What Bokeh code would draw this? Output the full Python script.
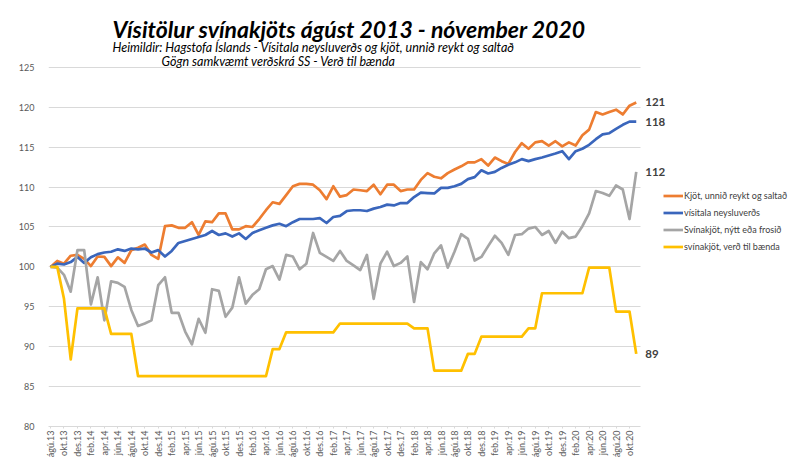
import math
from bokeh.plotting import figure
from bokeh.models import Range1d, FixedTicker, Legend, LegendItem, Label
from bokeh.embed import file_html
from bokeh.resources import INLINE

# ---- data (monthly index, ágúst 2013 = 100) ----
month_names = ["jan", "feb", "mar", "apr", "maí", "jún", "júl", "ágú", "sep", "okt", "nóv", "des"]
start_year, start_month = 2013, 8
n_months = 88

kjot = [100, 100.75, 100.4, 101.4, 101.5, 101.0, 100.1, 101.3, 101.25, 100.1,
        101.2, 100.5, 102.1, 102.4, 102.8, 101.5, 101.0, 105.1, 105.2, 104.9,
        104.9, 105.6, 104.0, 105.7, 105.6, 106.7, 106.7, 104.7, 104.7, 105.1,
        105.0, 106.0, 107.1, 108.1, 107.9,
        109.0, 110.1, 110.4, 110.4, 110.3, 109.6, 108.5, 110.1, 108.8, 109.0,
        109.7, 109.6, 109.5, 110.3, 109.1, 110.3, 110.3, 109.5, 109.7, 109.7,
        110.9, 111.75, 111.3,
        111.1, 111.75, 112.2, 112.6, 113.1, 113.1, 113.5, 112.7, 113.7, 113.25,
        112.9, 114.4, 115.5, 114.8, 115.6, 115.75, 115.2, 115.75, 115.1, 115.6,
        115.2, 116.5, 117.2, 119.4, 119.1, 119.4, 119.7, 119.1, 120.2, 120.6]

visitala = [100, 100.4, 100.3, 100.6, 101.25, 100.5, 101.2, 101.6, 101.8, 101.9,
            102.2, 102.0, 102.3, 102.2, 102.3, 101.8, 102.1, 101.3, 102.0, 103.0,
            103.25, 103.5, 103.75, 104.0, 104.5, 104.0, 104.2, 103.8, 104.2, 103.5,
            104.25, 104.6, 104.9, 105.2, 105.4,
            105.1, 105.6, 106.0, 106.0, 106.0, 106.1, 105.5, 106.25, 106.4, 107.0,
            107.1, 107.1, 107.0, 107.3, 107.5, 107.8, 107.7, 108.0, 108.0, 108.75,
            109.3, 109.25, 109.2,
            109.9, 109.9, 110.1, 110.4, 111.0, 111.25, 112.1, 111.7, 111.9, 112.4,
            112.8, 113.1, 113.5, 113.25, 113.5, 113.7, 113.95, 114.2, 114.5, 113.5,
            114.5, 114.8, 115.3, 116.0, 116.6, 116.75, 117.3, 117.8, 118.2, 118.2]

svinakjot = [100, 99.9, 99.0, 96.9, 102.1, 102.1, 95.3, 98.7, 93.3, 98.2,
             98.0, 97.5, 94.6, 92.6, 92.9, 93.3, 97.7, 98.7, 94.25, 94.25,
             91.9, 90.3, 93.5, 91.75, 97.2, 97.0, 93.75, 94.9, 98.7, 95.4,
             96.5, 97.2, 99.7, 100.1, 98.4,
             101.5, 101.3, 99.7, 100.4, 104.25, 101.75, 101.25, 100.75, 102.0, 100.75,
             100.2, 99.6, 101.5, 96.0, 100.4, 101.9, 100.1, 100.5, 101.3, 95.6,
             100.6, 99.7, 101.7,
             102.7, 99.9, 101.9, 104.1, 103.5, 100.8, 101.25, 102.6, 103.9, 103.0,
             101.5, 104.0, 104.1, 104.8, 105.0, 104.0, 104.5, 103.0, 104.4, 103.6,
             103.8, 105.1, 106.7, 109.5, 109.25, 108.9, 110.2, 109.7, 106.0, 111.9]

baendur = [100, 100, 96.0, 88.4, 94.8, 94.8, 94.8, 94.8, 94.8, 91.6,
           91.6, 91.6, 91.6, 86.3, 86.3, 86.3, 86.3, 86.3, 86.3, 86.3,
           86.3, 86.3, 86.3, 86.3, 86.3, 86.3, 86.3, 86.3, 86.3, 86.3,
           86.3, 86.3, 86.3, 89.7, 89.7, 91.8, 91.8, 91.8, 91.8, 91.8,
           91.8, 91.8, 91.8, 92.9, 92.9, 92.9, 92.9, 92.9, 92.9, 92.9,
           92.9, 92.9, 92.9, 92.9, 92.3, 92.3, 92.3, 87.0, 87.0, 87.0,
           87.0, 87.0, 89.1, 89.1, 91.25, 91.25, 91.25, 91.25, 91.25, 91.25,
           91.25, 92.3, 92.3, 96.7, 96.7, 96.7, 96.7, 96.7, 96.7, 96.7,
           99.9, 99.9, 99.9, 99.9, 94.4, 94.4, 94.4, 89.1]

end_labels = ["121", "118", "112", "89"]
series_names = ["Kjöt, unnið reykt og saltað", "vísitala neysluverðs",
                "Svínakjöt, nýtt eða frosið", "svínakjöt, verð til bænda"]
series_colors = ["#ED7D31", "#3A66BC", "#A5A5A5", "#FFC000"]
y_ticks = [80, 85, 90, 95, 100, 105, 110, 115, 120, 125]

title_text = "Vísitölur svínakjöts ágúst 2013 - nóvember 2020"
subtitle_1 = "Heimildir: Hagstofa Íslands - Vísitala neysluverðs og kjöt, unnið reykt og saltað"
subtitle_2 = "Gögn samkvæmt verðskrá SS - Verð til bænda"

x = list(range(n_months))
tick_labels = []
for i in x:
    m = (start_month - 1 + i) % 12
    yr = start_year + (start_month - 1 + i) // 12
    tick_labels.append(f"{month_names[m]}.{yr % 100:02d}")

FONT = "Lato"
X_START, X_END = -0.3, 87.7

p = figure(width=800, height=460, output_backend="svg", toolbar_location=None,
           x_range=Range1d(X_START, 111.1), y_range=Range1d(80, 133.38),
           min_border_left=48, min_border_right=2, min_border_top=0,
           min_border_bottom=34)
p.outline_line_color = None
p.background_fill_color = "white"
p.border_fill_color = "white"

p.xgrid.grid_line_color = None
p.ygrid.grid_line_color = "#D9D9D9"
p.ygrid.grid_line_width = 1
try:
    p.ygrid.cross_bounds = (X_START, X_END)
except Exception:
    pass

p.yaxis.ticker = FixedTicker(ticks=y_ticks)
p.yaxis.bounds = (80, 125)
p.yaxis.axis_line_color = None
p.yaxis.major_tick_line_color = None
p.yaxis.minor_tick_line_color = None
p.yaxis.major_label_text_font = FONT
p.yaxis.major_label_text_font_size = "9px"
p.yaxis.major_label_text_color = "#595959"
p.yaxis.major_label_standoff = 8

p.xaxis.ticker = FixedTicker(ticks=list(range(0, n_months, 2)))
p.xaxis.bounds = (X_START, X_END)
p.xaxis.major_label_overrides = {i: tick_labels[i] for i in range(0, n_months, 2)}
p.xaxis.major_label_orientation = math.pi / 2
p.xaxis.axis_line_color = "#D9D9D9"
p.xaxis.major_tick_line_color = "#D9D9D9"
p.xaxis.major_tick_out = 2
p.xaxis.major_tick_in = 0
p.xaxis.minor_tick_line_color = None
p.xaxis.major_label_text_font = FONT
p.xaxis.major_label_text_font_size = "9px"
p.xaxis.major_label_text_color = "#595959"
p.xaxis.major_label_standoff = 2

# titles inside the (extended) frame
p.add_layout(Label(x=9.2, y=129.85, text=title_text, text_font=FONT,
                   text_font_style="bold italic", text_font_size="23px",
                   text_color="#000000", text_baseline="alphabetic"))
p.add_layout(Label(x=9.2, y=127.54, text=subtitle_1, text_font=FONT,
                   text_font_style="italic", text_font_size="12.5px",
                   text_color="#000000", text_baseline="alphabetic"))
p.add_layout(Label(x=16.5, y=125.79, text=subtitle_2, text_font=FONT,
                   text_font_style="italic", text_font_size="12.5px",
                   text_color="#000000", text_baseline="alphabetic"))

items = []
for name, data, col in zip(series_names, [kjot, visitala, svinakjot, baendur], series_colors):
    r = p.line(x, data, line_color=col, line_width=2.7, line_join="round")
    items.append(LegendItem(label=name, renderers=[r]))

for data, txt in zip([kjot, visitala, svinakjot, baendur], end_labels):
    p.add_layout(Label(x=x[-1], y=data[-1], text=txt, x_offset=9,
                       text_baseline="middle", text_font=FONT,
                       text_font_style="bold", text_font_size="11.5px",
                       text_color="#404040"))

legend = Legend(items=items, location=(615, 171), orientation="vertical",
                padding=0, margin=0, spacing=0, label_standoff=1,
                glyph_width=20, glyph_height=17, label_height=17,
                label_text_font=FONT, label_text_font_size="9px",
                label_text_color="#404040", border_line_color=None,
                background_fill_alpha=0)
p.add_layout(legend, "center")

open("out.html", "w").write(file_html(p, INLINE))
